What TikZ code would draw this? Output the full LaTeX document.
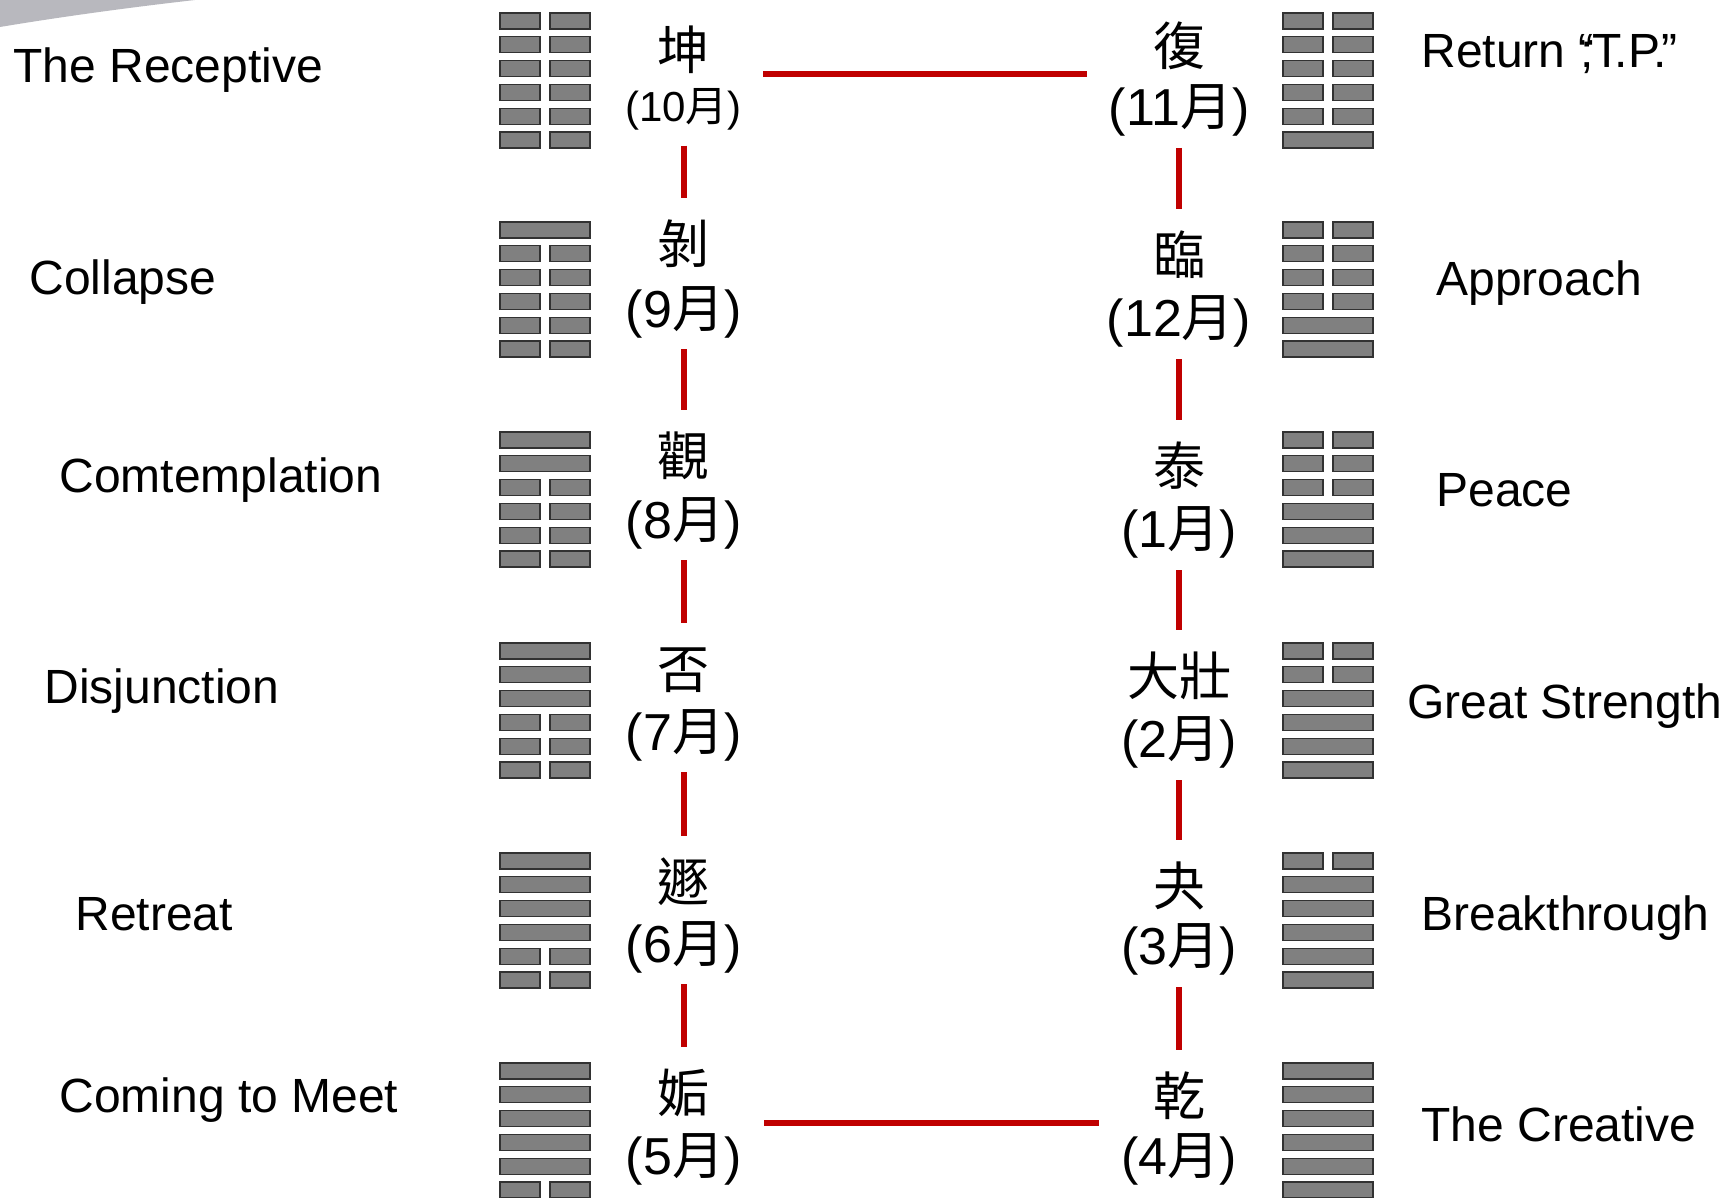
\documentclass[tikz,border=0pt]{standalone}
\usepackage{fontspec}
\setmainfont{Liberation Sans}
\newfontfamily\cjk{Noto Sans CJK TC}
\definecolor{linered}{RGB}{192,0,0}
\definecolor{bargray}{RGB}{128,128,128}
\definecolor{baredge}{RGB}{50,50,50}
\definecolor{wedgegray}{RGB}{184,184,190}
\newcommand{\hexgram}[3]{%
 \foreach \t [count=\i from 0] in {#3} {%
   \pgfmathsetmacro{\yy}{#2+\i*23.8}%
   \ifnum\t=1
     \draw[hexbar] (#1,\yy) rectangle ++(90,16);
   \else
     \draw[hexbar] (#1,\yy) rectangle ++(40,16);
     \draw[hexbar] ({#1+50},\yy) rectangle ++(40,16);
   \fi
 }}
\begin{document}
\begin{tikzpicture}[x=0.5pt,y=-0.5pt,
  hexbar/.style={fill=bargray, draw=baredge, line width=0.6pt},
  lab/.style={anchor=base west, inner sep=0pt, font=\fontsize{24}{24}\selectfont},
  zi/.style={inner sep=0pt, font=\cjk\fontsize{26}{26}\selectfont, text height=19.8pt, text depth=0pt},
  yue/.style={inner sep=0pt, font=\fontsize{26}{26}\selectfont, text height=13.6pt, text depth=0pt},
  redline/.style={draw=linered, line width=3pt},
  vleft/.style={redline, shorten <=17.5pt, shorten >=23pt},
  vright/.style={redline, shorten <=18pt, shorten >=23pt}]
\useasboundingbox (0,0) rectangle (1723,1198);
\fill[wedgegray] (0,0) -- (195,0) .. controls (125,8) and (60,17) .. (0,27) -- cycle;

% English labels
\node[lab] (lr) at (13,83) {The Receptive};
\node[lab] (lc) at (29,294) {Collapse};
\node[lab] (lm) at (59,492) {Comtemplation};
\node[lab] (ld) at (44,703) {Disjunction};
\node[lab] (lt) at (75,930) {Retreat};
\node[lab] (lg) at (59,1112) {Coming to Meet};
\node[lab] (rr) at (1421,67.5) {Return “\kern-0.3em;\kern-0.03em T\kern-0.14em.P\kern-0.14em.\kern-0.12em”};
\node[lab] (ra) at (1436,295) {Approach};
\node[lab] (rp) at (1436,506) {Peace};
\node[lab] (rg) at (1407,718) {Great Strength};
\node[lab] (rb) at (1421,930) {Breakthrough};
\node[lab] (rc) at (1421,1141) {The Creative};

% hexagrams
\hexgram{500}{13}{0,0,0,0,0,0}
\hexgram{500}{222}{1,0,0,0,0,0}
\hexgram{500}{432}{1,1,0,0,0,0}
\hexgram{500}{643}{1,1,1,0,0,0}
\hexgram{500}{853}{1,1,1,1,0,0}
\hexgram{500}{1063}{1,1,1,1,1,0}
\hexgram{1283}{13}{0,0,0,0,0,1}
\hexgram{1283}{222}{0,0,0,0,1,1}
\hexgram{1283}{432}{0,0,0,1,1,1}
\hexgram{1283}{643}{0,0,1,1,1,1}
\hexgram{1283}{853}{0,1,1,1,1,1}
\hexgram{1283}{1063}{1,1,1,1,1,1}

% left column
\node[zi] (c10) at (683.6,49.5) {坤};
\node[yue, font=\fontsize{21}{21}\selectfont, text height=11pt] (m10) at (683.6,110.6) {(10{\cjk 月})};
\node[zi] (c9) at (683.6,244) {剝};
\node[yue] (m9) at (683.6,314) {(9{\cjk 月})};
\node[zi] (c8) at (683.6,456) {觀};
\node[yue] (m8) at (683.6,525) {(8{\cjk 月})};
\node[zi] (c7) at (683.6,669) {否};
\node[yue] (m7) at (683.6,737) {(7{\cjk 月})};
\node[zi] (c6) at (683.6,882) {遯};
\node[yue] (m6) at (683.6,949) {(6{\cjk 月})};
\node[zi] (c5) at (683.6,1093) {姤};
\node[yue] (m5) at (683.6,1161) {(5{\cjk 月})};

% right column
\node[zi] (c11) at (1179,46) {復};
\node[yue] (m11) at (1179,112) {(11{\cjk 月})};
\node[zi] (c12) at (1179,255) {臨};
\node[yue] (m12) at (1179,323) {(12{\cjk 月})};
\node[zi] (c1) at (1179,466) {泰};
\node[yue] (m1) at (1179,534) {(1{\cjk 月})};
\node[zi] (c2) at (1179,676) {大壯};
\node[yue] (m2) at (1179,744) {(2{\cjk 月})};
\node[zi] (c3) at (1179,886) {夬};
\node[yue] (m3) at (1179,951) {(3{\cjk 月})};
\node[zi] (c4) at (1179,1096) {乾};
\node[yue] (m4) at (1179,1161) {(4{\cjk 月})};

% red connectors
\draw[vleft] (m10.center) -- (c9.center);
\draw[vleft] (m9.center) -- (c8.center);
\draw[vleft] (m8.center) -- (c7.center);
\draw[vleft] (m7.center) -- (c6.center);
\draw[vleft] (m6.center) -- (c5.center);
\draw[vright] (m11.center) -- (c12.center);
\draw[vright] (m12.center) -- (c1.center);
\draw[vright] (m1.center) -- (c2.center);
\draw[vright] (m2.center) -- (c3.center);
\draw[vright] (m3.center) -- (c4.center);
\coordinate (tl) at (763,74);
\coordinate (tr) at (1087,74);
\coordinate (bl) at (764,1123);
\coordinate (br) at (1099,1123);
\draw[redline] (tl) -- (tr);
\draw[redline] (bl) -- (br);
\end{tikzpicture}
\end{document}
